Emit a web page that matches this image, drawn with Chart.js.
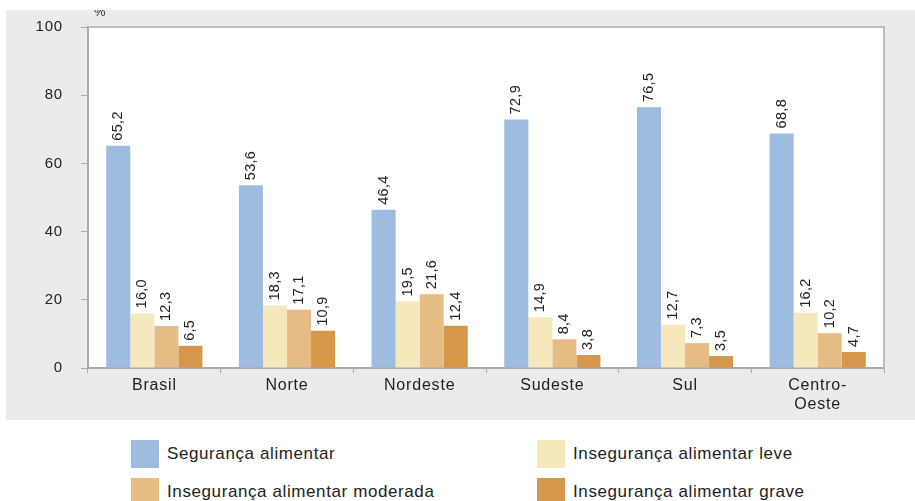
<!DOCTYPE html>
<html>
<head>
<meta charset="utf-8">
<script src="https://cdn.jsdelivr.net/npm/chart.js@4/dist/chart.umd.min.js"></script>
<style>
  body { margin: 0; background: #fff; }
  #wrap { position: relative; width: 915px; height: 501px; overflow: hidden; }
  #chart { position: absolute; left: 0; top: 0; }
  .leg { position: absolute; font-family: "Liberation Sans", Arial, sans-serif; font-size: 17px; letter-spacing: 0.6px; color: #222; }
  .sw { position: absolute; width: 28px; height: 28px; }
</style>
</head>
<body>
<div id="wrap">
  <canvas id="chart" width="915" height="420"></canvas>
  <div id="legend"></div>
</div>
<script>
var regions = ["Brasil", "Norte", "Nordeste", "Sudeste", "Sul", ["Centro-", "Oeste"]];
var seriesNames = ["Segurança alimentar", "Insegurança alimentar leve", "Insegurança alimentar moderada", "Insegurança alimentar grave"];
var seguranca = [65.2, 53.6, 46.4, 72.9, 76.5, 68.8];
var leve = [16.0, 18.3, 19.5, 14.9, 12.7, 16.2];
var moderada = [12.3, 17.1, 21.6, 8.4, 7.3, 10.2];
var grave = [6.5, 10.9, 12.4, 3.8, 3.5, 4.7];
var colors = ["#9ebbe0", "#f5e8bc", "#e6bc85", "#d6974b"];

var FONT = "Liberation Sans, Arial, sans-serif";

// background panel, plot frame and "%" unit
var panelPlugin = {
  id: "panel",
  beforeDraw: function(chart) {
    var c = chart.ctx, a = chart.chartArea;
    c.letterSpacing = "0.8px";
    c.save();
    c.fillStyle = "#fff";
    c.fillRect(0, 0, chart.width, chart.height);
    c.fillStyle = "#ebebeb";
    c.fillRect(6, 10, chart.width - 6, chart.height - 10);
    c.fillStyle = "#fff";
    c.fillRect(a.left, a.top, a.right - a.left, a.bottom - a.top);
    c.restore();
  },
  afterDraw: function(chart) {
    var c = chart.ctx, a = chart.chartArea;
    c.save();
    c.strokeStyle = "#bdbdbd";
    c.lineWidth = 2;
    c.beginPath();
    c.moveTo(a.left, a.top);
    c.lineTo(a.right, a.top);
    c.lineTo(a.right, a.bottom);
    c.stroke();
    c.beginPath();
    c.rect(6, 10, chart.width, chart.height);
    c.clip();
    c.fillStyle = "#333";
    c.font = "13px " + FONT;
    c.textBaseline = "alphabetic";
    c.fillText("%", a.left + 6, 16);
    c.restore();
  }
};

// rotated value labels above each bar
var labelPlugin = {
  id: "valueLabels",
  afterDatasetsDraw: function(chart) {
    var c = chart.ctx;
    c.save();
    c.letterSpacing = "0.3px";
    c.font = "14.5px " + FONT;
    c.fillStyle = "#222";
    c.textAlign = "left";
    c.textBaseline = "middle";
    chart.data.datasets.forEach(function(ds, i) {
      chart.getDatasetMeta(i).data.forEach(function(bar, j) {
        c.save();
        c.translate(bar.x, bar.y - 5);
        c.rotate(-Math.PI / 2);
        c.fillText(ds.data[j].toFixed(1).replace(".", ","), 0, 0);
        c.restore();
      });
    });
    c.restore();
  }
};

var allSeries = [seguranca, leve, moderada, grave];
var datasets = allSeries.map(function(d, i) {
  return { label: seriesNames[i], data: d, backgroundColor: colors[i], borderWidth: 0 };
});

new Chart(document.getElementById("chart"), {
  type: "bar",
  data: { labels: regions, datasets: datasets },
  plugins: [panelPlugin, labelPlugin],
  options: {
    responsive: false,
    animation: false,
    events: [],
    categoryPercentage: 0.725,
    barPercentage: 1,
    layout: { padding: { top: 22, right: 31, left: 0, bottom: 0 } },
    plugins: { legend: { display: false }, tooltip: { enabled: false } },
    scales: {
      x: {
        grid: { offset: true, drawOnChartArea: false, drawTicks: true, tickLength: 5, color: "#aaa" },
        border: { color: "#aaa", width: 2 },
        ticks: { color: "#222", font: { family: FONT, size: 16 }, padding: 3 },
        afterFit: function(s) { s.height = 52; }
      },
      y: {
        min: 0, max: 100,
        ticks: { stepSize: 20, color: "#222", font: { family: FONT, size: 15 }, padding: 18 },
        grid: { drawOnChartArea: false, drawTicks: true, tickLength: 7, color: "#aaa" },
        border: { color: "#aaa", width: 2 },
        afterFit: function(s) { s.width = 88; }
      }
    }
  }
});

// legend, 2 x 2
var legPos = [[131, 440], [537, 440], [131, 478], [537, 478]];
var legend = document.getElementById("legend");
seriesNames.forEach(function(name, i) {
  var sw = document.createElement("div");
  sw.className = "sw";
  sw.style.left = legPos[i][0] + "px";
  sw.style.top = legPos[i][1] + "px";
  sw.style.background = colors[i];
  legend.appendChild(sw);
  var t = document.createElement("div");
  t.className = "leg";
  t.style.left = (legPos[i][0] + 36) + "px";
  t.style.top = (legPos[i][1] + 4) + "px";
  t.textContent = name;
  legend.appendChild(t);
});
</script>
</body>
</html>
